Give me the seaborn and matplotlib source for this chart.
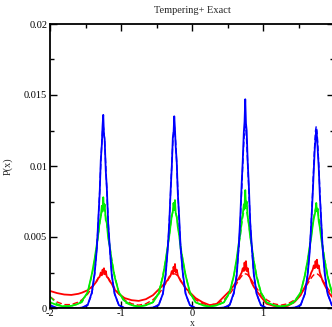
import matplotlib
matplotlib.use("Agg")
import matplotlib.pyplot as plt
import seaborn as sns
import numpy as np
from matplotlib.ticker import MultipleLocator

sns.set_theme(style="ticks")
plt.rcParams['font.family'] = ['Liberation Serif', 'DejaVu Serif']

x_vals = [-2.0, -1.9, -1.8, -1.7, -1.6, -1.55, -1.47, -1.41, -1.37, -1.34, -1.32, -1.30, -1.285, -1.27, -1.26,
          -1.25, -1.24, -1.23, -1.215, -1.20, -1.18, -1.16, -1.13, -1.09, -1.03, -0.95, -0.85,
          -0.75, -0.65, -0.55, -0.47, -0.41, -0.37, -0.34, -0.32, -0.30, -0.285, -0.27, -0.26,
          -0.25, -0.24, -0.23, -0.215, -0.20, -0.18, -0.16, -0.13, -0.09, -0.03, 0.05, 0.15,
          0.25, 0.35, 0.45, 0.53, 0.59, 0.63, 0.66, 0.68, 0.70, 0.715, 0.73, 0.74,
          0.75, 0.76, 0.77, 0.785, 0.80, 0.82, 0.84, 0.87, 0.91, 0.97, 1.05, 1.15,
          1.25, 1.35, 1.45, 1.53, 1.59, 1.63, 1.66, 1.68, 1.70, 1.715, 1.73, 1.74,
          1.75, 1.76, 1.77, 1.785, 1.80, 1.82, 1.84, 1.87, 1.91, 1.97, 2.0]

red_data = [0.00120, 0.00105, 0.00095, 0.00092, 0.00100, 0.00108, 0.00125, 0.00150, 0.00170, 0.0019, 0.0021, 0.0022, 0.0025, 0.0023, 0.0027,
            0.0025, 0.0028, 0.0024, 0.0026, 0.0022, 0.0021, 0.0019, 0.0017, 0.0013, 0.0010, 0.0007, 0.00055,
            0.0005, 0.00062, 0.0009, 0.0013, 0.0016, 0.0018, 0.0020, 0.0022, 0.0023, 0.0026, 0.0024, 0.0029,
            0.0026, 0.0031, 0.0025, 0.0027, 0.0023, 0.0021, 0.0019, 0.0017, 0.0014, 0.0011, 0.0007, 0.0004,
            0.0002, 0.0003, 0.0008, 0.0012, 0.0016, 0.0019, 0.0021, 0.0023, 0.0025, 0.0028, 0.0026, 0.0032,
            0.0027, 0.0033, 0.0026, 0.0028, 0.0023, 0.0021, 0.0018, 0.0015, 0.0012, 0.0008, 0.0003, 0.00015,
            0.0001, 0.00015, 0.00045, 0.0009, 0.0015, 0.0019, 0.0022, 0.0025, 0.0027, 0.0030, 0.0028, 0.0033,
            0.0029, 0.0034, 0.0028, 0.0030, 0.0025, 0.0022, 0.0019, 0.0016, 0.0012, 0.0008, 0.0007]

red_exact = [0.00080, 0.00042, 0.00024, 0.00024, 0.00042, 0.00058, 0.00098, 0.00140, 0.00172, 0.00196, 0.00212, 0.00225, 0.00233, 0.00238, 0.00240,
             0.00240, 0.00240, 0.00238, 0.00233, 0.00225, 0.00212, 0.00196, 0.00172, 0.00140, 0.00098, 0.00058, 0.00030,
             0.00020, 0.00030, 0.00058, 0.00098, 0.00140, 0.00172, 0.00196, 0.00212, 0.00225, 0.00233, 0.00238, 0.00240,
             0.00240, 0.00240, 0.00238, 0.00233, 0.00225, 0.00212, 0.00196, 0.00172, 0.00140, 0.00098, 0.00058, 0.00030,
             0.00020, 0.00030, 0.00058, 0.00098, 0.00140, 0.00172, 0.00196, 0.00212, 0.00225, 0.00233, 0.00238, 0.00240,
             0.00240, 0.00240, 0.00238, 0.00233, 0.00225, 0.00212, 0.00196, 0.00172, 0.00140, 0.00098, 0.00058, 0.00030,
             0.00020, 0.00030, 0.00058, 0.00098, 0.00140, 0.00172, 0.00196, 0.00212, 0.00225, 0.00233, 0.00238, 0.00240,
             0.00240, 0.00240, 0.00238, 0.00233, 0.00225, 0.00212, 0.00196, 0.00172, 0.00140, 0.00098, 0.00080]

green_data = [0.0004, 0.0002, 0.0001, 0.00015, 0.0003, 0.0005, 0.0011, 0.0024, 0.0035, 0.0045, 0.0052, 0.0061, 0.0064, 0.0072, 0.0068,
              0.0078, 0.0070, 0.0073, 0.0062, 0.0060, 0.0049, 0.0044, 0.0033, 0.0022, 0.0011, 0.0005, 0.0002,
              0.0001, 0.0002, 0.0004, 0.0010, 0.0022, 0.0034, 0.0044, 0.0051, 0.0059, 0.0065, 0.0068, 0.0074,
              0.0069, 0.0076, 0.0067, 0.0064, 0.0057, 0.0051, 0.0042, 0.0034, 0.0023, 0.0011, 0.0004, 0.0002,
              0.0001, 0.0002, 0.0004, 0.0011, 0.0023, 0.0035, 0.0046, 0.0052, 0.0062, 0.0066, 0.0073, 0.0071,
              0.0083, 0.0072, 0.0075, 0.0064, 0.0059, 0.0050, 0.0044, 0.0033, 0.0022, 0.0011, 0.0004, 0.0002,
              0.0001, 0.0002, 0.0005, 0.0011, 0.0023, 0.0034, 0.0044, 0.0050, 0.0058, 0.0063, 0.0066, 0.0069,
              0.0074, 0.0068, 0.0070, 0.0061, 0.0057, 0.0049, 0.0042, 0.0033, 0.0022, 0.0011, 0.0008]

green_exact = [0.00080, 0.00028, 0.00014, 0.00014, 0.00028, 0.00040, 0.00110, 0.00230, 0.00340, 0.00440, 0.00510, 0.00590, 0.00640, 0.00680, 0.00700,
               0.00710, 0.00700, 0.00680, 0.00640, 0.00590, 0.00510, 0.00440, 0.00340, 0.00230, 0.00110, 0.00040, 0.00018,
               0.00012, 0.00018, 0.00040, 0.00110, 0.00230, 0.00340, 0.00440, 0.00510, 0.00590, 0.00640, 0.00680, 0.00700,
               0.00710, 0.00700, 0.00680, 0.00640, 0.00590, 0.00510, 0.00440, 0.00340, 0.00230, 0.00110, 0.00040, 0.00018,
               0.00012, 0.00018, 0.00040, 0.00110, 0.00230, 0.00340, 0.00440, 0.00510, 0.00590, 0.00640, 0.00680, 0.00700,
               0.00710, 0.00700, 0.00680, 0.00640, 0.00590, 0.00510, 0.00440, 0.00340, 0.00230, 0.00110, 0.00040, 0.00018,
               0.00012, 0.00018, 0.00040, 0.00110, 0.00230, 0.00340, 0.00440, 0.00510, 0.00590, 0.00640, 0.00680, 0.00700,
               0.00710, 0.00700, 0.00680, 0.00640, 0.00590, 0.00510, 0.00440, 0.00340, 0.00230, 0.00110, 0.00080]

blue_data = [0.0002, 0.0, 0.0, 0.0, 0.0, 0.00003, 0.0002, 0.0011, 0.0025, 0.0042, 0.0062, 0.0081, 0.0104, 0.0115, 0.0128,
             0.0136, 0.0122, 0.0119, 0.0097, 0.0085, 0.0059, 0.0044, 0.0023, 0.0010, 0.0002, 0.0, 0.0,
             0.0, 0.0, 0.00003, 0.0002, 0.0010, 0.0024, 0.0043, 0.0060, 0.0084, 0.0099, 0.0120, 0.0123,
             0.0135, 0.0126, 0.0114, 0.0103, 0.0081, 0.0063, 0.0042, 0.0025, 0.0010, 0.0002, 0.0, 0.0,
             0.0, 0.0, 0.00003, 0.0002, 0.0011, 0.0023, 0.0045, 0.0064, 0.0088, 0.0104, 0.0124, 0.0131,
             0.0147, 0.0130, 0.0125, 0.0102, 0.0087, 0.0060, 0.0045, 0.0024, 0.0010, 0.0002, 0.0, 0.0,
             0.0, 0.0, 0.00003, 0.0002, 0.0010, 0.0024, 0.0041, 0.0060, 0.0080, 0.0097, 0.0113, 0.0119,
             0.0125, 0.0121, 0.0112, 0.0099, 0.0080, 0.0061, 0.0042, 0.0024, 0.0010, 0.0002, 0.0001]

blue_exact = [0.0001, 0.0, 0.0, 0.0, 0.0, 0.00003, 0.0002, 0.0010, 0.0024, 0.0043, 0.0061, 0.0083, 0.0101, 0.0117, 0.0125,
              0.0128, 0.0125, 0.0117, 0.0101, 0.0083, 0.0061, 0.0043, 0.0024, 0.0010, 0.0002, 0.0, 0.0,
              0.0, 0.0, 0.00003, 0.0002, 0.0010, 0.0024, 0.0043, 0.0061, 0.0083, 0.0101, 0.0117, 0.0125,
              0.0128, 0.0125, 0.0117, 0.0101, 0.0083, 0.0061, 0.0043, 0.0024, 0.0010, 0.0002, 0.0, 0.0,
              0.0, 0.0, 0.00003, 0.0002, 0.0010, 0.0024, 0.0043, 0.0061, 0.0083, 0.0101, 0.0117, 0.0125,
              0.0128, 0.0125, 0.0117, 0.0101, 0.0083, 0.0061, 0.0043, 0.0024, 0.0010, 0.0002, 0.0, 0.0,
              0.0, 0.0, 0.00003, 0.0002, 0.0010, 0.0024, 0.0043, 0.0061, 0.0083, 0.0101, 0.0117, 0.0125,
              0.0128, 0.0125, 0.0117, 0.0101, 0.0083, 0.0061, 0.0043, 0.0024, 0.0010, 0.0002, 0.0001]

x_ticks = [-2, -1, 0, 1, 2]
x_tick_labels = ["-2", "-1", "0", "1", "2"]
y_ticks = [0, 0.005, 0.01, 0.015, 0.02]
y_tick_labels = ["0", "0.005", "0.01", "0.015", "0.02"]

fig = plt.figure(figsize=(3.32, 3.27), dpi=100)
ax = fig.add_axes([50/332, 19/327, 284/332, 284/327])

series = [
    (red_data, red_exact, "#ff0000"),
    (green_data, green_exact, "#00ee00"),
    (blue_data, blue_exact, "#0000ff"),
]
for data, exact, col in series:
    sns.lineplot(x=x_vals, y=data, color=col, lw=1.3, ax=ax, estimator=None, sort=False)
    sns.lineplot(x=x_vals, y=exact, color=col, lw=1.0, ax=ax, estimator=None, sort=False,
                 linestyle=(0, (4, 2)))

ax.set_xlim(-2, 2)
ax.set_ylim(0, 0.02)
ax.set_xticks(x_ticks)
ax.set_xticklabels(x_tick_labels)
ax.set_yticks(y_ticks)
ax.set_yticklabels(y_tick_labels)
ax.xaxis.set_minor_locator(MultipleLocator(0.5))
ax.yaxis.set_minor_locator(MultipleLocator(0.0025))
ax.tick_params(which='both', direction='in', top=True, right=True, labelsize=7.5, colors='black')
ax.tick_params(axis='y', pad=2)
ax.tick_params(axis='x', pad=1)
ax.tick_params(which='major', length=5, width=1)
ax.tick_params(which='minor', length=3, width=1)
for s in ax.spines.values():
    s.set_linewidth(1.3)
    s.set_color('black')
ax.set_ylabel("P(x)", fontsize=7.5, labelpad=8)
ax.set_title("Tempering+ Exact", fontsize=7.5, pad=8)
fig.text(192/332, 1 - 323/327, "x", fontsize=7, ha='center', va='center')

fig.savefig("out.png", dpi=100)
